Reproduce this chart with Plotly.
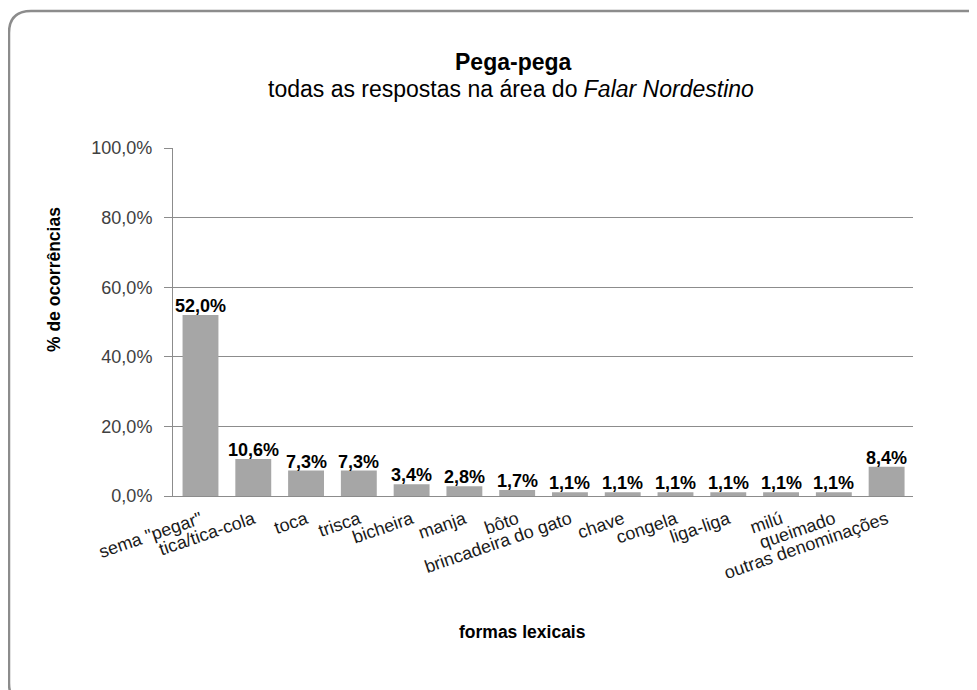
import plotly.graph_objects as go

# ---- data ----
categories = ['sema "pegar"', "tica/tica-cola", "toca", "trisca", "bicheira", "manja", "bôto",
              "brincadeira do gato", "chave", "congela", "liga-liga", "milú", "queimado",
              "outras denominações"]
percentages = [52.0, 10.6, 7.3, 7.3, 3.4, 2.8, 1.7, 1.1, 1.1, 1.1, 1.1, 1.1, 1.1, 8.4]
y_tick_values = [0, 20, 40, 60, 80, 100]
y_tick_labels = ["0,0%", "20,0%", "40,0%", "60,0%", "80,0%", "100,0%"]

title_text = "<b>Pega-pega</b>"
subtitle_text = "todas as respostas na área do <i>Falar Nordestino</i>"
x_title = "<b>formas lexicais</b>"
y_title = "<b>% de ocorrências</b>"

# ---- layout constants (pixels, page offset of 8px compensated) ----
OFF = 8
FW, FH = 977 - OFF, 690 - OFF
L, R, T, B = 173 - OFF, 913 - OFF, 148 - OFF, 496 - OFF
PW, PH = R - L, B - T


def px(x):
    return (x - OFF - L) / PW


def py(y):
    return (B - (y - OFF)) / PH


FONT = "Liberation Sans, Arial, sans-serif"

fig = go.Figure()
fig.add_trace(go.Bar(
    x=categories,
    y=percentages,
    marker=dict(color="#A6A6A6", line=dict(width=0)),
    hoverinfo="skip",
))

# data labels (through the data axes)
label_annotations = [
    dict(x=c, y=v, xref="x", yref="y",
         text="<b>" + f"{v:.1f}".replace(".", ",") + "%</b>",
         showarrow=False, xanchor="center", yanchor="bottom", yshift=-3,
         font=dict(family=FONT, size=18, color="#000000"))
    for c, v in zip(categories, percentages)
]

# rounded border
x0, y0, x1, y1, r = 9, 11, 990, 705, 22
path = (
    f"M {px(x0 + r)} {py(y0)} L {px(x1 - r)} {py(y0)} "
    f"Q {px(x1)} {py(y0)} {px(x1)} {py(y0 + r)} "
    f"L {px(x1)} {py(y1 - r)} Q {px(x1)} {py(y1)} {px(x1 - r)} {py(y1)} "
    f"L {px(x0 + r)} {py(y1)} Q {px(x0)} {py(y1)} {px(x0)} {py(y1 - r)} "
    f"L {px(x0)} {py(y0 + r)} Q {px(x0)} {py(y0)} {px(x0 + r)} {py(y0)} Z"
)

fig.update_layout(
    width=FW, height=FH,
    margin=dict(l=L, r=FW - R, t=T, b=FH - B, pad=0),
    paper_bgcolor="white",
    plot_bgcolor="white",
    showlegend=False,
    bargap=0.32,
    font=dict(family=FONT, size=17, color="#000000"),
    shapes=[dict(type="path", xref="paper", yref="paper", path=path,
                 line=dict(color="#8C8C8C", width=2.5), layer="below")],
    annotations=[
        dict(text=title_text, xref="paper", yref="paper", x=px(513), y=py(62),
             showarrow=False, font=dict(family=FONT, size=23, color="#000000"),
             xanchor="center", yanchor="middle"),
        dict(text=subtitle_text, xref="paper", yref="paper", x=px(511), y=py(89),
             showarrow=False, font=dict(family=FONT, size=23, color="#000000"),
             xanchor="center", yanchor="middle"),
        dict(text=x_title, xref="paper", yref="paper", x=px(522), y=py(632),
             showarrow=False, font=dict(family=FONT, size=17.5, color="#000000"),
             xanchor="center", yanchor="middle"),
        dict(text=y_title, xref="paper", yref="paper", x=px(54), y=py(280),
             showarrow=False, textangle=-90, font=dict(family=FONT, size=17.5, color="#000000"),
             xanchor="center", yanchor="middle"),
    ] + label_annotations,
)

fig.update_xaxes(
    type="category",
    tickangle=-19,
    tickfont=dict(family=FONT, size=18, color="#1A1A1A"),
    ticklabelstandoff=5,
    showline=True, linecolor="#8C8C8C", linewidth=1,
    ticks="", showgrid=False,
)
fig.update_yaxes(
    range=[0, 100],
    tickmode="array",
    tickvals=y_tick_values,
    ticktext=y_tick_labels,
    tickfont=dict(family=FONT, size=18, color="#404040"),
    ticklabelstandoff=8,
    showline=True, linecolor="#8C8C8C", linewidth=1,
    ticks="outside", ticklen=8, tickcolor="#8C8C8C",
    showgrid=True, gridcolor="#8C8C8C", gridwidth=1,
    zeroline=False,
)

fig.write_html("out.html")
